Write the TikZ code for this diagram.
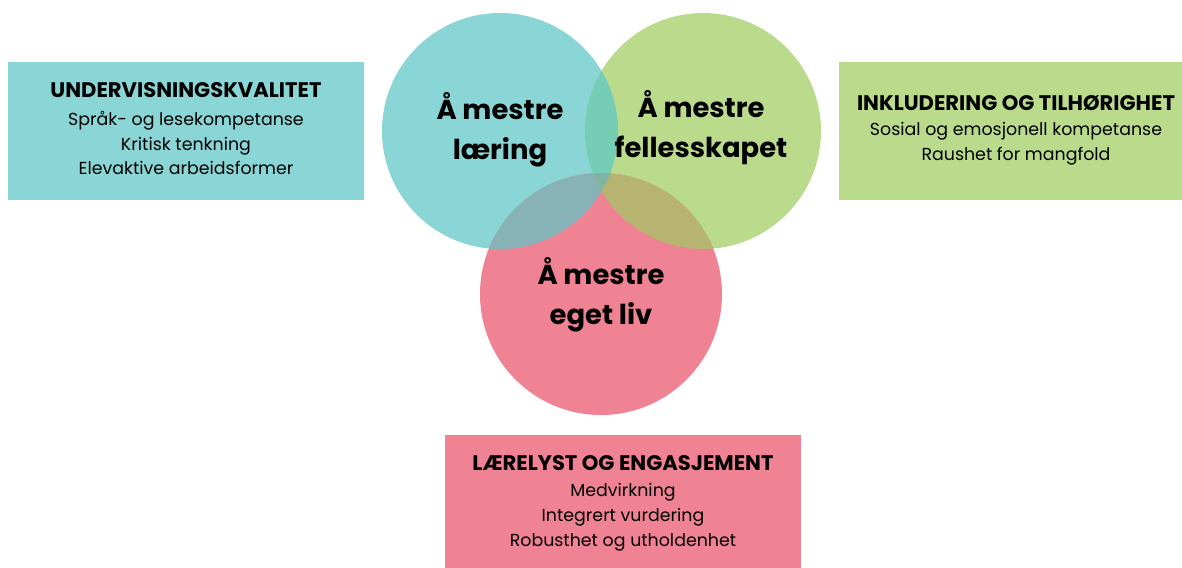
\documentclass[tikz,border=0pt]{standalone}
\usepackage{fontspec}
\setmainfont{Poppins}
\usepackage{tkz-euclide}

\definecolor{turkis}{HTML}{8AD6D6}
\definecolor{lysgronn}{HTML}{BADB8C}
\definecolor{rosa}{HTML}{EF8293}
\definecolor{turkisgronn}{HTML}{76CDB6}
\definecolor{turkisrosa}{HTML}{87B3B8}
\definecolor{gronnrosa}{HTML}{B6B470}
\definecolor{midten}{HTML}{82B4A2}

\tikzset{
  omrade/.style={font=\fontsize{7.8}{11.4}\selectfont\bfseries, align=center},
  tittel/.style={font=\fontsize{6.0}{7}\selectfont\bfseries},
  punkter/.style={font=\fontsize{4.95}{7.1}\selectfont, align=center}
}

\begin{document}
\begin{tikzpicture}
    \useasboundingbox (0,0) rectangle (11.82,-5.68);
    \tkzDefPoint(5.00,-1.31){L}
    \tkzDefPoint(7.03,-1.31){F}
    \tkzDefPoint(6.01,-2.94){E}
    % sirklene
    \fill[turkis] (L) circle (1.18);
    \fill[lysgronn] (F) circle (1.18);
    \fill[rosa] (E) circle (1.21);
    \begin{scope}
      \clip (L) circle (1.18);
      \fill[turkisgronn] (F) circle (1.18);
      \fill[turkisrosa] (E) circle (1.21);
    \end{scope}
    \begin{scope}
      \clip (F) circle (1.18);
      \clip (E) circle (1.21);
      \fill[gronnrosa] (L) ++(-3,-3) rectangle ++(8,8);
    \end{scope}
    \begin{scope}
      \clip (L) circle (1.18);
      \clip (F) circle (1.18);
      \clip (E) circle (1.21);
      \fill[midten] (L) ++(-3,-3) rectangle ++(8,8);
    \end{scope}
    \node[omrade] (laering) at (5.00,-1.30) {Å mestre\\læring};
    \node[omrade] (felles) at (7.01,-1.28) {Å mestre\\fellesskapet};
    \node[omrade] (liv) at (6.01,-2.95) {Å mestre\\eget liv};
    % boksene
    \fill[turkis] (0.08,-0.62) rectangle (3.64,-2.00);
    \fill[lysgronn] (8.39,-0.62) rectangle (11.82,-2.00);
    \fill[rosa] (4.45,-4.35) rectangle (8.01,-5.68);
    \node[tittel] (uk) at (1.86,-0.90) {UNDERVISNINGSKVALITET};
    \node[punkter] (ukpkt) at (1.86,-1.43) {Språk- og lesekompetanse\\Kritisk tenkning\\Elevaktive arbeidsformer};
    \node[tittel] (it) at (10.16,-1.03) {INKLUDERING OG TILHØRIGHET};
    \node[punkter] (itpkt) at (10.16,-1.435) {Sosial og emosjonell kompetanse\\Raushet for mangfold};
    \node[tittel] (le) at (6.23,-4.63) {LÆRELYST OG ENGASJEMENT};
    \node[punkter] (lepkt) at (6.23,-5.17) {Medvirkning\\Integrert vurdering\\Robusthet og utholdenhet};
\end{tikzpicture}
\end{document}
